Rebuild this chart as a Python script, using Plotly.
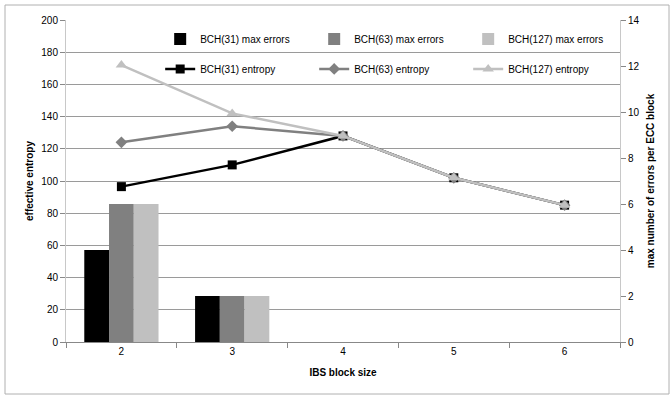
import plotly.graph_objects as go

categories = ["2", "3", "4", "5", "6"]
bch31_max_errors = [4, 2, 0, 0, 0]
bch63_max_errors = [6, 2, 0, 0, 0]
bch127_max_errors = [6, 2, 0, 0, 0]
bch31_entropy = [96.5, 110, 128, 102, 85]
bch63_entropy = [124, 134, 128, 102, 85]
bch127_entropy = [172, 142, 128, 102, 85]

FONT = "Liberation Sans"
C_BLACK = "#000000"
C_GRAY = "#808080"
C_LIGHT = "#C0C0C0"

fig = go.Figure()

for name, vals, col in [("BCH(31) max errors", bch31_max_errors, C_BLACK),
                        ("BCH(63) max errors", bch63_max_errors, C_GRAY),
                        ("BCH(127) max errors", bch127_max_errors, C_LIGHT)]:
    fig.add_trace(go.Bar(x=categories, y=vals, name=name, marker=dict(color=col, line=dict(width=0)),
                         yaxis="y2", legend="legend"))

for name, vals, col, sym, sz in [("BCH(31) entropy", bch31_entropy, C_BLACK, "square", 9),
                                 ("BCH(63) entropy", bch63_entropy, C_GRAY, "diamond", 9),
                                 ("BCH(127) entropy", bch127_entropy, C_LIGHT, "triangle-up", 10)]:
    fig.add_trace(go.Scatter(x=categories, y=vals, name=name, mode="lines+markers",
                             line=dict(color=col, width=2.5),
                             marker=dict(symbol=sym, size=sz, color=col),
                             yaxis="y", legend="legend2"))

legend_common = dict(orientation="h", font=dict(family=FONT, size=10, color="#000"),
                     bgcolor="rgba(0,0,0,0)", entrywidth=109, entrywidthmode="pixels",
                     itemwidth=30, xanchor="left", yanchor="middle", traceorder="normal")

fig.update_layout(
    width=670, height=395,
    margin=dict(l=66, r=50, t=20, b=53, autoexpand=False),
    paper_bgcolor="white", plot_bgcolor="white",
    font=dict(family=FONT, size=10, color="#404040"),
    barmode="group", bargap=0.33, bargroupgap=0,
    showlegend=True,
    legend=dict(x=0.170, y=0.941, **legend_common),
    legend2=dict(x=0.170, y=0.848, **legend_common),
    xaxis=dict(type="category", range=[-0.5, 4.5], showgrid=False, automargin=False,
               showline=True, linecolor="#888888", linewidth=1,
               ticks="outside", ticklen=5, tickcolor="#888888", tickson="boundaries",
               tickfont=dict(family=FONT, size=10, color="#000"),
               title=dict(text="<b>IBS block size</b>", font=dict(family=FONT, size=10, color="#000"), standoff=12)),
    yaxis=dict(range=[0, 200], dtick=20, showgrid=True, gridcolor="#9a9a9a", gridwidth=1, automargin=False,
               showline=True, linecolor="#c8c8c8", linewidth=1, zeroline=False,
               ticks="outside", ticklen=5, tickcolor="#888888",
               tickfont=dict(family=FONT, size=10, color="#000"),
               title=dict(text="<b>effective entropy</b>", font=dict(family=FONT, size=10, color="#000"), standoff=5)),
    yaxis2=dict(range=[0, 14], dtick=2, overlaying="y", side="right", showgrid=False, automargin=False,
                showline=True, linecolor="#c8c8c8", linewidth=1, zeroline=False,
                ticks="outside", ticklen=5, tickcolor="#888888",
                tickfont=dict(family=FONT, size=10, color="#000"),
                title=dict(text="<b>max number of errors per ECC block</b>", font=dict(family=FONT, size=10, color="#000"), standoff=8)),
    shapes=[dict(type="rect", xref="paper", yref="paper",
                 x0=(5 - 66) / 554, x1=(669 - 66) / 554, y0=(342 - 394) / 322, y1=(342 - 5) / 322,
                 line=dict(color="#b0b0b0", width=1), layer="below")],
)

fig.write_html("out.html")
